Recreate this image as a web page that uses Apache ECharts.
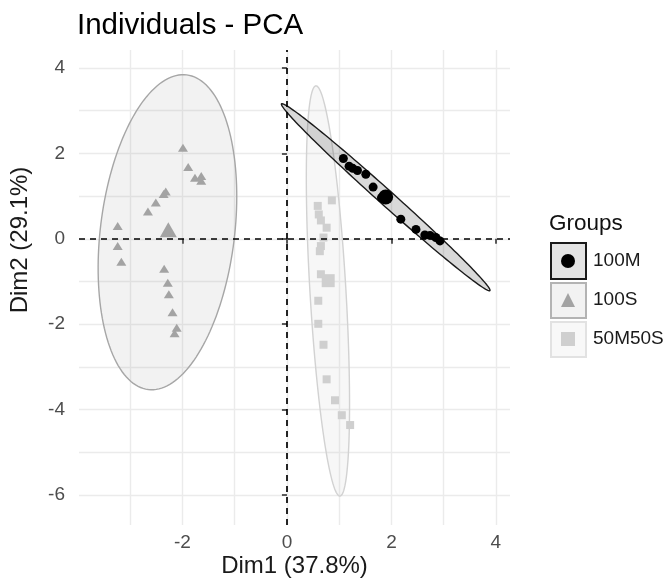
<!DOCTYPE html>
<html>
<head>
<meta charset="utf-8">
<script src="https://cdn.jsdelivr.net/npm/echarts@6/dist/echarts.min.js"></script>
<style>
  html, body { margin: 0; padding: 0; background: #fff; }
  #chart { width: 669px; height: 583px; }
</style>
</head>
<body>
<div id="chart"></div>
<script>
// individuals (Dim1 / Dim2)
const dim1_100M = [1.08, 1.19, 1.26, 1.35, 1.51, 1.65, 1.81, 2.18, 2.47, 2.64, 2.74, 2.85, 2.93];
const dim2_100M = [1.88, 1.70, 1.65, 1.60, 1.51, 1.21, 0.96, 0.46, 0.22, 0.09, 0.08, 0.03, -0.05];

const dim1_100S = [-1.99, -1.89, -1.76, -1.64, -1.64, -2.32, -2.36, -2.51, -2.66, -3.24, -3.24, -3.17, -2.35, -2.28, -2.26, -2.19, -2.11, -2.15];
const dim2_100S = [2.13, 1.68, 1.43, 1.47, 1.36, 1.11, 1.05, 0.85, 0.64, 0.30, -0.17, -0.54, -0.70, -1.03, -1.30, -1.72, -2.08, -2.21];

const dim1_50M50S = [0.86, 0.59, 0.61, 0.65, 0.76, 0.70, 0.65, 0.63, 0.65, 0.60, 0.60, 0.70, 0.76, 0.92, 1.05, 1.21];
const dim2_50M50S = [0.90, 0.77, 0.57, 0.43, 0.26, 0.03, -0.17, -0.29, -0.83, -1.45, -1.99, -2.48, -3.29, -3.78, -4.13, -4.36];

// group centres (drawn larger)
const centre100M = [1.89, 0.98];
const centre100S = [-2.27, 0.21];
const centre50M50S = [0.79, -0.98];

// concentration ellipses: centre x, centre y, half major axis (dx, dy), half minor axis (dx, dy)
const ellipse100M = [1.891, 0.974, 1.994, -2.186, -0.096, -0.130];
const ellipse100S = [-2.287, 0.154, 0.367, 3.683, 1.275, -0.189];
const ellipse50M50S = [0.785, -1.221, -0.230, 4.802, 0.344, 0.024];

const groups = ['100M', '100S', '50M50S'];
const xTicks = [-2, 0, 2, 4];
const yTicks = [-6, -4, -2, 0, 2, 4];
const xGrid = [-3, -2, -1, 0, 1, 2, 3, 4];
const yGrid = [-6, -5, -4, -3, -2, -1, 0, 1, 2, 3, 4];

const FONT = 'Liberation Sans, Arial, sans-serif';

const pairs = (xs, ys) => xs.map((x, i) => [x, ys[i]]);

function ellipseSeries(name, params, fill, stroke, width) {
  return {
    name: name,
    type: 'custom',
    silent: true,
    data: [params],
    renderItem: (p, api) => {
      const pts = [];
      for (let i = 0; i < 160; i++) {
        const t = i / 160 * Math.PI * 2;
        const c = Math.cos(t), s = Math.sin(t);
        pts.push(api.coord([
          api.value(0) + api.value(2) * c + api.value(4) * s,
          api.value(1) + api.value(3) * c + api.value(5) * s
        ]));
      }
      return {
        type: 'polygon',
        shape: { points: pts },
        style: { fill: fill, stroke: stroke, lineWidth: width }
      };
    }
  };
}

const chart = echarts.init(document.getElementById('chart'));

const option = {
  animation: false,
  backgroundColor: '#ffffff',
  textStyle: { fontFamily: FONT },
  title: [
    { text: 'Individuals - PCA', left: 77, top: 11, padding: 0,
      textStyle: { fontSize: 29.5, fontWeight: 'normal', color: '#000', fontFamily: FONT } },
    { text: 'Groups', left: 549, top: 212, padding: 0,
      textStyle: { fontSize: 22.5, fontWeight: 'normal', color: '#111', fontFamily: FONT } }
  ],
  grid: { left: 79, right: 159, top: 50, bottom: 56 },
  legend: {
    orient: 'vertical',
    left: 561, top: 251, padding: 0,
    itemWidth: 14, itemHeight: 14, itemGap: 19,
    selectedMode: false,
    textStyle: { fontSize: 19, lineHeight: 20, padding: [0, 0, 0, 13], color: '#1a1a1a', fontFamily: FONT },
    data: [
      { name: '100M', icon: 'circle' },
      { name: '100S', icon: 'triangle' },
      { name: '50M50S', icon: 'rect' }
    ]
  },
  graphic: [
    { type: 'rect', shape: { x: 551, y: 243, width: 35, height: 36 },
      style: { fill: '#e4e4e4', stroke: '#1a1a1a', lineWidth: 2 } },
    { type: 'rect', shape: { x: 551, y: 283, width: 35, height: 35 },
      style: { fill: '#f2f2f2', stroke: '#b3b3b3', lineWidth: 2 } },
    { type: 'rect', shape: { x: 551, y: 322, width: 35, height: 35 },
      style: { fill: '#f8f8f8', stroke: '#e2e2e2', lineWidth: 2 } },
    { type: 'text', x: 20, y: 240, rotation: Math.PI / 2,
      style: { text: 'Dim2 (29.1%)', align: 'center', verticalAlign: 'middle',
        font: '24px ' + FONT, fill: '#1a1a1a' } }
  ],
  xAxis: [
    {
      type: 'value', min: -3.98, max: 4.27,
      name: 'Dim1 (37.8%)', nameLocation: 'middle', nameGap: 29,
      nameTextStyle: { fontSize: 24, color: '#1a1a1a', fontFamily: FONT },
      axisLine: { show: false },
      axisTick: { show: false, customValues: xGrid },
      axisLabel: { show: false },
      splitLine: { show: true, lineStyle: { color: '#ebebeb', width: 1.4 } }
    },
    {
      type: 'value', min: -3.98, max: 4.27, position: 'bottom',
      axisLine: { show: false },
      axisTick: { show: true, customValues: xTicks, length: 5, lineStyle: { color: '#333', width: 1.6 } },
      axisLabel: { customValues: xTicks, margin: 8, fontSize: 19, color: '#4d4d4d', fontFamily: FONT },
      splitLine: { show: false }
    }
  ],
  yAxis: [
    {
      type: 'value', min: -6.70, max: 4.42,
      axisLine: { show: false },
      axisTick: { show: false, customValues: yGrid },
      axisLabel: { show: false },
      splitLine: { show: true, lineStyle: { color: '#ebebeb', width: 1.4 } }
    },
    {
      type: 'value', min: -6.70, max: 4.42, position: 'left',
      axisLine: { show: false },
      axisTick: { show: true, customValues: yTicks, length: 5, lineStyle: { color: '#333', width: 1.6 } },
      axisLabel: { customValues: yTicks, margin: 14, fontSize: 19, color: '#4d4d4d', fontFamily: FONT },
      splitLine: { show: false }
    }
  ],
  series: [
    ellipseSeries('ell50M50S', ellipse50M50S, 'rgba(204,204,204,0.15)', '#d2d2d2', 1.4),
    ellipseSeries('ell100S', ellipse100S, 'rgba(153,153,153,0.13)', '#a6a6a6', 1.4),
    ellipseSeries('ell100M', ellipse100M, 'rgba(0,0,0,0.15)', '#1a1a1a', 1.4),
    {
      name: '100S', type: 'scatter', symbol: 'triangle', symbolSize: [10, 8],
      itemStyle: { color: '#a3a3a3', opacity: 1 },
      data: pairs(dim1_100S, dim2_100S).concat([{ value: centre100S, symbolSize: [17, 15] }])
    },
    {
      name: '50M50S', type: 'scatter', symbol: 'rect', symbolSize: 8,
      itemStyle: { color: '#cfcfcf', opacity: 1 },
      data: pairs(dim1_50M50S, dim2_50M50S).concat([{ value: centre50M50S, symbolSize: 13 }])
    },
    {
      name: '100M', type: 'scatter', symbol: 'circle', symbolSize: 9,
      itemStyle: { color: '#000', opacity: 1 },
      data: pairs(dim1_100M, dim2_100M).concat([{ value: centre100M, symbolSize: 15 }]),
      markLine: {
        silent: true, symbol: ['none', 'none'], label: { show: false },
        lineStyle: { color: '#000', type: [6, 5], width: 1.7 },
        data: [{ xAxis: 0 }, { yAxis: 0 }]
      }
    }
  ]
};

chart.setOption(option);
</script>
</body>
</html>
